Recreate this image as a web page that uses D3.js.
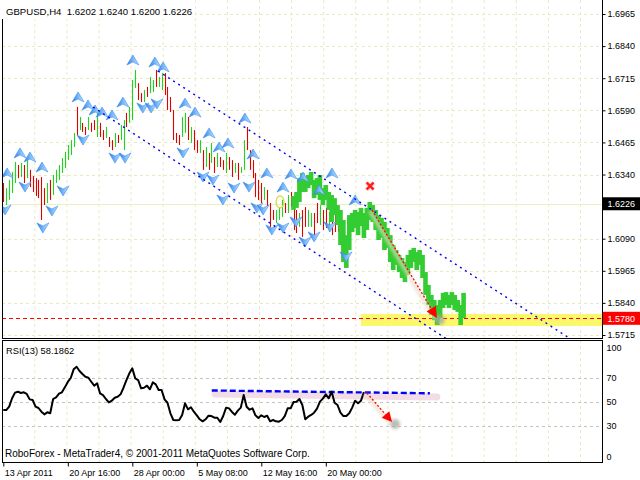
<!DOCTYPE html>
<html><head><meta charset="utf-8">
<script src="https://cdn.jsdelivr.net/npm/d3@7"></script>
<style>body{margin:0;background:#fff}svg{display:block}</style>
</head><body><svg id="c" width="640" height="480"></svg>
<script>
// ---------------- data ----------------
const symbol = "GBPUSD,H4";
const lastBar = [1.6202, 1.6240, 1.6200, 1.6226]; // O H L C
const timeTickIdx = [0, 22, 44, 66, 88, 110];
const timeTickLabels = ["13 Apr 2011", "20 Apr 16:00", "28 Apr 00:00", "5 May 08:00", "12 May 16:00", "20 May 00:00"];
const priceTicks = [1.5715, 1.5840, 1.5965, 1.6090, 1.6340, 1.6465, 1.6590, 1.6715, 1.6840, 1.6965];
const rsiTicks = [0, 30, 50, 70, 100];
const rsiLevels = [30, 50, 70];

const barHigh = [1.6307,1.6287,1.6319,1.6350,1.6389,1.6377,1.6385,1.6377,1.6396,1.6358,
1.6334,1.6326,1.6319,1.6330,1.6287,1.6307,1.6319,1.6338,1.6358,1.6377,
1.6404,1.6428,1.6455,1.6474,1.6502,1.6603,1.6564,1.6541,1.6525,1.6564,
1.6541,1.6552,1.6580,1.6541,1.6513,1.6525,1.6486,1.6474,1.6502,1.6494,
1.6533,1.6552,1.6580,1.6603,1.6708,1.6747,1.6696,1.6657,1.6669,1.6681,
1.6720,1.6708,1.6747,1.6720,1.6735,1.6735,1.6681,1.6642,1.6591,1.6502,
1.6494,1.6564,1.6580,1.6564,1.6525,1.6513,1.6474,1.6474,1.6435,1.6447,
1.6424,1.6463,1.6408,1.6424,1.6408,1.6396,1.6424,1.6408,1.6396,1.6385,
1.6385,1.6369,1.6474,1.6525,1.6435,1.6396,1.6346,1.6319,1.6307,1.6291,
1.6280,1.6229,1.6202,1.6202,1.6213,1.6241,1.6229,1.6260,1.6272,1.6241,
1.6202,1.6190,1.6202,1.6213,1.6202,1.6190,1.6190,1.6229,1.6221,1.6202,
1.6210,1.6194,1.6182,1.6190,1.6171,1.6151,1.6139];
const barLow = [1.6233,1.6221,1.6241,1.6268,1.6307,1.6326,1.6330,1.6307,1.6326,1.6291,
1.6272,1.6256,1.6248,1.6163,1.6221,1.6229,1.6241,1.6260,1.6307,1.6319,
1.6346,1.6365,1.6396,1.6416,1.6447,1.6494,1.6513,1.6506,1.6494,1.6513,
1.6506,1.6513,1.6486,1.6486,1.6474,1.6482,1.6447,1.6435,1.6447,1.6463,
1.6474,1.6435,1.6525,1.6541,1.6552,1.6677,1.6630,1.6622,1.6622,1.6642,
1.6657,1.6661,1.6681,1.6681,1.6669,1.6650,1.6591,1.6583,1.6474,1.6463,
1.6455,1.6486,1.6502,1.6474,1.6463,1.6435,1.6424,1.6424,1.6358,1.6369,
1.6358,1.6385,1.6346,1.6369,1.6369,1.6358,1.6346,1.6358,1.6330,1.6346,
1.6319,1.6346,1.6358,1.6435,1.6358,1.6326,1.6252,1.6241,1.6229,1.6241,
1.6213,1.6136,1.6163,1.6151,1.6163,1.6175,1.6190,1.6190,1.6213,1.6124,
1.6112,1.6136,1.6097,1.6136,1.6136,1.6136,1.6085,1.6151,1.6143,1.6124,
1.6132,1.6116,1.6104,1.6116,1.6116,1.6085,1.6058];
// u = close above open (green), d = close below open (red)
const barDir = "duuuududud" + "ddddduduuu" + "uuuuududdu" + "ddudduddud" + "uuduuuddud" +
               "uuduuddddd" + "duududdudu" + "dududduddu" + "duuddddddu" + "ddduuududd" +
               "dudduuddud" + "duddddd";

const overlayStart = 99;
const overlayHigh = [1.6256,1.6272,1.6326,1.6346,1.6326,1.6338,1.6350,1.6319,1.6326,1.6338,
1.6287,1.6299,1.6272,1.6260,1.6248,1.6221,1.6202,1.6163,1.6104,1.6182,
1.6190,1.6202,1.6194,1.6210,1.6190,1.6210,1.6233,1.6221,1.6202,1.6182,
1.6171,1.6155,1.6132,1.6104,1.6065,1.6046,1.6027,1.6015,1.5999,1.6027,
1.6046,1.6054,1.6038,1.6046,1.6027,1.5960,1.5910,1.5871,1.5851,1.5832,
1.5851,1.5879,1.5882,1.5871,1.5882,1.5871,1.5851,1.5832,1.5879];
const overlayLow = [1.6202,1.6210,1.6233,1.6272,1.6272,1.6287,1.6299,1.6248,1.6260,1.6241,
1.6221,1.6241,1.6202,1.6155,1.6182,1.6143,1.6065,1.5999,1.5976,1.6046,
1.6116,1.6132,1.6104,1.6139,1.6093,1.6124,1.6163,1.6155,1.6124,1.6085,
1.6093,1.6046,1.6054,1.5999,1.5968,1.5988,1.5960,1.5937,1.5921,1.5949,
1.5976,1.5999,1.5968,1.5988,1.5937,1.5871,1.5832,1.5793,1.5773,1.5754,
1.5781,1.5820,1.5832,1.5820,1.5832,1.5812,1.5805,1.5754,1.5781];

const rsiValues = [43.3,43.3,46.1,53.1,57.8,58.6,57.5,58.1,56.7,52.2,
51.7,46.1,45.0,41.9,39.7,41.4,40.6,52.5,53.9,56.9,
58.1,62.2,66.7,70.0,77.2,79.4,75.8,73.3,71.1,70.3,
66.9,63.6,65.6,57.2,55.8,52.5,49.7,51.1,53.6,54.4,
56.4,61.9,68.3,73.9,78.1,69.7,68.3,61.4,61.9,63.6,
60.6,66.4,64.7,60.0,60.0,52.2,49.4,40.6,35.0,34.7,
35.0,39.2,48.9,43.9,45.6,41.9,38.9,35.6,33.9,35.6,
38.6,38.3,36.9,36.9,33.3,38.3,45.3,44.7,41.7,39.4,
42.8,45.3,55.8,46.1,43.6,44.7,38.9,36.7,38.9,37.5,
38.6,33.9,35.0,33.9,33.6,35.0,38.3,44.7,44.7,50.0,
50.3,52.5,47.5,35.6,37.8,39.2,41.1,44.4,50.3,52.8,
56.4,53.1,58.6,49.4,47.5,41.1,38.3,38.3,40.6,45.3,
51.1,48.9,51.1,58.1862];

const fractalUp = [[1.3,1.6346],[5.7,1.6424],[9.1,1.6408],[13.2,1.6369],[25.5,1.6642],[28.9,1.6611],
[31.3,1.6591],[33.7,1.6583],[37.1,1.6572],[40.8,1.6622],[44.2,1.6786],[51.7,1.6778],[54.5,1.6759],
[62.0,1.6618],[65.4,1.6583],[70.2,1.6502],[73.6,1.6447],[76.6,1.6463],[82.4,1.6560],[85.2,1.6420],
[89.9,1.6346],[95.4,1.6291],[98.1,1.6342],[102.2,1.6330],[107.7,1.6280],[112.1,1.6346],[120.0,1.6241]];
const fractalDown = [[0.6,1.6202],[7.4,1.6291],[13.5,1.6132],[16.6,1.6198],[20.4,1.6276],[27.2,1.6474],
[38.1,1.6404],[41.5,1.6404],[47.6,1.6599],[50.4,1.6599],[52.4,1.6615],[61.3,1.6424],[68.1,1.6330],
[71.5,1.6319],[74.9,1.6241],[78.7,1.6287],[83.8,1.6291],[86.5,1.6210],[88.6,1.6202],[91.6,1.6124],
[95.4,1.6132],[99.8,1.6155],[102.9,1.6077],[106.0,1.6097],[111.4,1.6136],[116.9,1.6019]];

const channelUpper = [[52.8, 1.6743], [193.3, 1.5701]];
const channelLower = [[30.6, 1.6603], [151.3, 1.5699]];
const supportZone = [122.0, 1.5797, 1.5750]; // from index, top price, bottom price
const supportLevel = 1.5780;
const forecastArrow = [[125.75, 1.6202], [147.9, 1.5781]];
const crossMark = [125.1, 1.6295];
const waveMark = [94.4, 1.6233];
const rsiResistance = [[71.1, 59.6], [145.5, 57.25]];
const rsiShade = [[72.2, 56.7], [147.9, 54.2]];
const rsiArrow = [[124.0, 57.5], [132.6, 33.3]];

// ---------------- layout ----------------
const FONT = "'Liberation Sans', Arial, sans-serif";
const plotL = 2, plotR = 602, mainBot = 338, rsiTop = 340, rsiBot = 463;
const svg = d3.select("#c");
const x = d3.scaleLinear().domain([0, 110]).range([3.3, 325.8]);
const y = d3.scaleLinear().domain([1.5715, 1.6965]).range([335, 14]);
const yr = d3.scaleLinear().domain([0, 100]).range([462, 342]);

const defs = svg.append("defs");
defs.append("clipPath").attr("id", "clipMain").append("rect")
  .attr("x", plotL).attr("y", 0).attr("width", plotR - plotL).attr("height", mainBot);
defs.append("clipPath").attr("id", "clipRsi").append("rect")
  .attr("x", plotL).attr("y", rsiTop).attr("width", plotR - plotL).attr("height", rsiBot - rsiTop);
const f = defs.append("filter").attr("id", "blur").attr("x", "-50%").attr("y", "-50%").attr("width", "200%").attr("height", "200%");
f.append("feGaussianBlur").attr("stdDeviation", 1.6);
const g1 = defs.append("linearGradient").attr("id", "fg").attr("x1", 0).attr("y1", 0).attr("x2", 1).attr("y2", 0);
g1.append("stop").attr("offset", "0%").attr("stop-color", "#2a78e4");
g1.append("stop").attr("offset", "55%").attr("stop-color", "#7fbdf8");
g1.append("stop").attr("offset", "100%").attr("stop-color", "#c6e3ff");

svg.append("rect").attr("width", 640).attr("height", 480).attr("fill", "#fff");

const gridX = d3.range(34.8, plotR, 32.1);
const gridCol = "#e9e9c6";

// ---------------- main panel ----------------
const main = svg.append("g").attr("clip-path", "url(#clipMain)");
main.selectAll(null).data(gridX).join("line")
  .attr("x1", d => d).attr("x2", d => d).attr("y1", 0).attr("y2", mainBot)
  .attr("stroke", gridCol).attr("stroke-dasharray", "3,3");
main.selectAll(null).data(priceTicks).join("line")
  .attr("x1", plotL).attr("x2", plotR).attr("y1", d => Math.round(y(d)) + 0.5).attr("y2", d => Math.round(y(d)) + 0.5)
  .attr("stroke", gridCol).attr("stroke-dasharray", "3,3");
main.append("line").attr("x1", plotL).attr("x2", plotR)
  .attr("y1", Math.round(y(lastBar[3])) + 0.5).attr("y2", Math.round(y(lastBar[3])) + 0.5)
  .attr("stroke", "#eeeec0");

// support zone
main.append("rect").attr("x", x(supportZone[0])).attr("width", plotR - x(supportZone[0]))
  .attr("y", y(supportZone[1])).attr("height", y(supportZone[2]) - y(supportZone[1]))
  .attr("fill", "#fbf86c");
main.append("line").attr("x1", plotL).attr("x2", plotR)
  .attr("y1", Math.round(y(supportLevel)) + 0.5).attr("y2", Math.round(y(supportLevel)) + 0.5)
  .attr("stroke", "#ff0000").attr("stroke-dasharray", "4,3");

// bars
const bars = barHigh.map((h, i) => ({ i, h, l: barLow[i], up: barDir[i] === "u" }));
main.selectAll(null).data(bars).join("line")
  .attr("x1", d => Math.round(x(d.i)) + 0.5).attr("x2", d => Math.round(x(d.i)) + 0.5)
  .attr("y1", d => y(d.h)).attr("y2", d => y(d.l))
  .attr("stroke", d => d.up ? "#1ed41e" : "#e00000").attr("stroke-width", 1.1);

// wave mark
main.append("ellipse").attr("cx", x(waveMark[0])).attr("cy", y(waveMark[1])).attr("rx", 4).attr("ry", 6)
  .attr("fill", "none").attr("stroke", "#d6e050").attr("stroke-width", 1.4);

// overlay (thick green)
const ov = overlayHigh.map((h, k) => ({ i: overlayStart + k, h, l: overlayLow[k] }));
main.selectAll(null).data(ov).join("rect")
  .attr("x", d => x(d.i) - 2.3).attr("width", 4.6)
  .attr("y", d => y(d.h)).attr("height", d => y(d.l) - y(d.h))
  .attr("fill", "#33cc33");

// fractals
const upPath = "M0,-5L6,5L0,2L-6,5Z", dnPath = "M0,5L6,-5L0,-2L-6,-5Z";
main.selectAll(null).data(fractalUp).join("path")
  .attr("d", upPath).attr("transform", d => `translate(${x(d[0])},${y(d[1])})`)
  .attr("fill", "url(#fg)").attr("stroke", "#3d8ff0").attr("stroke-width", 0.6);
main.selectAll(null).data(fractalDown).join("path")
  .attr("d", dnPath).attr("transform", d => `translate(${x(d[0])},${y(d[1])})`)
  .attr("fill", "url(#fg)").attr("stroke", "#3d8ff0").attr("stroke-width", 0.6);

// channel
[channelUpper, channelLower].forEach(c => {
  main.append("line").attr("x1", x(c[0][0])).attr("y1", y(c[0][1])).attr("x2", x(c[1][0])).attr("y2", y(c[1][1]))
    .attr("stroke", "#0000ee").attr("stroke-width", 1.4).attr("stroke-dasharray", "2,4");
});

function arrow(g, p0, p1, head, shadowBlob) {
  const ang = Math.atan2(p1[1] - p0[1], p1[0] - p0[0]);
  g.append("line").attr("x1", p0[0] - 2).attr("y1", p0[1] + 1).attr("x2", p1[0] - 2).attr("y2", p1[1] + 1)
    .attr("stroke", "#ead9c4").attr("stroke-width", 4).attr("opacity", 0.7).attr("filter", "url(#blur)");
  g.append("circle").attr("cx", p1[0] + 3).attr("cy", p1[1] + 2).attr("r", shadowBlob)
    .attr("fill", "#a8a8a0").attr("opacity", 0.75).attr("filter", "url(#blur)");
  const bx = p1[0] - head * Math.cos(ang), by = p1[1] - head * Math.sin(ang);
  g.append("line").attr("x1", p0[0]).attr("y1", p0[1]).attr("x2", bx).attr("y2", by)
    .attr("stroke", "#ff0000").attr("stroke-width", 1.3).attr("stroke-dasharray", "2,2");
  const w = head * 0.5, nx = -Math.sin(ang), ny = Math.cos(ang);
  g.append("path").attr("d", `M${p1[0]},${p1[1]}L${bx + nx * w},${by + ny * w}L${bx - nx * w},${by - ny * w}Z`)
    .attr("fill", "#ff0000");
}
arrow(main, forecastArrow.map(d => [x(d[0]), y(d[1])])[0], [x(forecastArrow[1][0]), y(forecastArrow[1][1])], 11, 5);

// cross
const cx = x(crossMark[0]), cy = y(crossMark[1]);
[[-3.5, -3.5, 3.5, 3.5], [-3.5, 3.5, 3.5, -3.5]].forEach(s => {
  main.append("line").attr("x1", cx + s[0]).attr("y1", cy + s[1]).attr("x2", cx + s[2]).attr("y2", cy + s[3])
    .attr("stroke", "#ffb8b8").attr("stroke-width", 4);
});
[[-3.5, -3.5, 3.5, 3.5], [-3.5, 3.5, 3.5, -3.5]].forEach(s => {
  main.append("line").attr("x1", cx + s[0]).attr("y1", cy + s[1]).attr("x2", cx + s[2]).attr("y2", cy + s[3])
    .attr("stroke", "#ff1a1a").attr("stroke-width", 2.2);
});

// ---------------- RSI panel ----------------
const rg = svg.append("g").attr("clip-path", "url(#clipRsi)");
rg.selectAll(null).data(gridX).join("line")
  .attr("x1", d => d).attr("x2", d => d).attr("y1", rsiTop).attr("y2", rsiBot)
  .attr("stroke", gridCol).attr("stroke-dasharray", "3,3");
rg.selectAll(null).data(rsiLevels).join("line")
  .attr("x1", plotL).attr("x2", plotR).attr("y1", d => Math.round(yr(d)) + 0.5).attr("y2", d => Math.round(yr(d)) + 0.5)
  .attr("stroke", "#c4c4c4").attr("stroke-dasharray", "3,3");
rg.append("line").attr("x1", x(rsiShade[0][0])).attr("y1", yr(rsiShade[0][1]))
  .attr("x2", x(rsiShade[1][0])).attr("y2", yr(rsiShade[1][1]))
  .attr("stroke", "#f2dde6").attr("stroke-width", 7).attr("stroke-linecap", "round");
rg.append("line").attr("x1", x(rsiResistance[0][0])).attr("y1", yr(rsiResistance[0][1]))
  .attr("x2", x(rsiResistance[1][0])).attr("y2", yr(rsiResistance[1][1]))
  .attr("stroke", "#0000ff").attr("stroke-width", 2.4).attr("stroke-dasharray", "6,3");
rg.append("path").datum(rsiValues)
  .attr("d", d3.line().x((d, i) => x(i)).y(d => yr(d)))
  .attr("fill", "none").attr("stroke", "#000").attr("stroke-width", 2).attr("stroke-linejoin", "round");
arrow(rg, [x(rsiArrow[0][0]), yr(rsiArrow[0][1])], [x(rsiArrow[1][0]), yr(rsiArrow[1][1])], 10, 5);

// ---------------- frames ----------------
svg.append("rect").attr("x", 0).attr("y", 0).attr("width", 195).attr("height", 19).attr("fill", "#fff");
const frame = svg.append("g").attr("stroke", "#000").attr("stroke-width", 1);
frame.append("line").attr("x1", 2.5).attr("x2", 2.5).attr("y1", 19).attr("y2", mainBot);
frame.append("line").attr("x1", plotL).attr("x2", plotR + 1).attr("y1", mainBot + 0.5).attr("y2", mainBot + 0.5);
frame.append("line").attr("x1", plotR + 0.5).attr("x2", plotR + 0.5).attr("y1", 0).attr("y2", mainBot);
frame.append("line").attr("x1", plotL).attr("x2", plotR + 1).attr("y1", rsiTop + 0.5).attr("y2", rsiTop + 0.5);
frame.append("line").attr("x1", plotL).attr("x2", plotR + 1).attr("y1", rsiBot - 0.5).attr("y2", rsiBot - 0.5);
frame.append("line").attr("x1", 2.5).attr("x2", 2.5).attr("y1", rsiTop).attr("y2", rsiBot);
frame.append("line").attr("x1", plotR + 0.5).attr("x2", plotR + 0.5).attr("y1", rsiTop).attr("y2", rsiBot);

// ---------------- axes ----------------
const pa = svg.append("g").attr("transform", `translate(${plotR + 0.5},0)`)
  .call(d3.axisRight(y).tickValues(priceTicks).tickSize(3).tickPadding(2).tickFormat(d3.format(".4f")));
pa.select(".domain").remove();
pa.attr("font-family", FONT).attr("font-size", 9);
pa.selectAll("text").attr("fill", "#000");

const boxes = [{ v: lastBar[3], bg: "#000" }, { v: supportLevel, bg: "#ff0000" }];
boxes.forEach(b => {
  svg.append("rect").attr("x", plotR + 1).attr("width", 38).attr("y", y(b.v) - 6.5).attr("height", 13).attr("fill", b.bg);
  svg.append("text").attr("x", plotR + 5.5).attr("y", y(b.v) + 3.3).attr("fill", "#fff")
    .attr("font-family", FONT).attr("font-size", 9).text(d3.format(".4f")(b.v));
});

const ra = svg.append("g").attr("transform", `translate(${plotR + 0.5},0)`)
  .call(d3.axisRight(yr).tickValues(rsiTicks).tickSize(0).tickPadding(4));
ra.select(".domain").remove();
ra.attr("font-family", FONT).attr("font-size", 9);
ra.selectAll(".tick text").attr("fill", "#000").attr("dy", d => d === 100 ? "0.99em" : d === 0 ? "-0.23em" : "0.32em");

const ta = svg.append("g").attr("transform", `translate(0,${rsiBot - 0.5})`)
  .call(d3.axisBottom(x).tickValues(timeTickIdx).tickSize(4).tickPadding(3).tickFormat((d, k) => timeTickLabels[k]));
ta.select(".domain").remove();
ta.attr("font-family", FONT).attr("font-size", 9);
ta.selectAll(".tick text").attr("text-anchor", "start").attr("dx", 1).attr("fill", "#000");
ta.selectAll(".tick line").attr("stroke", "#000");

// ---------------- texts ----------------
svg.append("text").attr("x", 6).attr("y", 15).attr("font-family", FONT).attr("font-size", 9.6)
  .style("white-space", "pre").text(symbol + "  " + lastBar.map(d3.format(".4f")).join(" "));
svg.append("text").attr("x", 6).attr("y", 354).attr("font-family", FONT).attr("font-size", 9.3)
  .text("RSI(13) " + d3.format(".4f")(rsiValues[rsiValues.length - 1]));
svg.append("text").attr("x", 5).attr("y", 457).attr("font-family", FONT).attr("font-size", 10)
  .text("RoboForex - MetaTrader4, \u00a9 2001-2011 MetaQuotes Software Corp.");
</script></body></html>
